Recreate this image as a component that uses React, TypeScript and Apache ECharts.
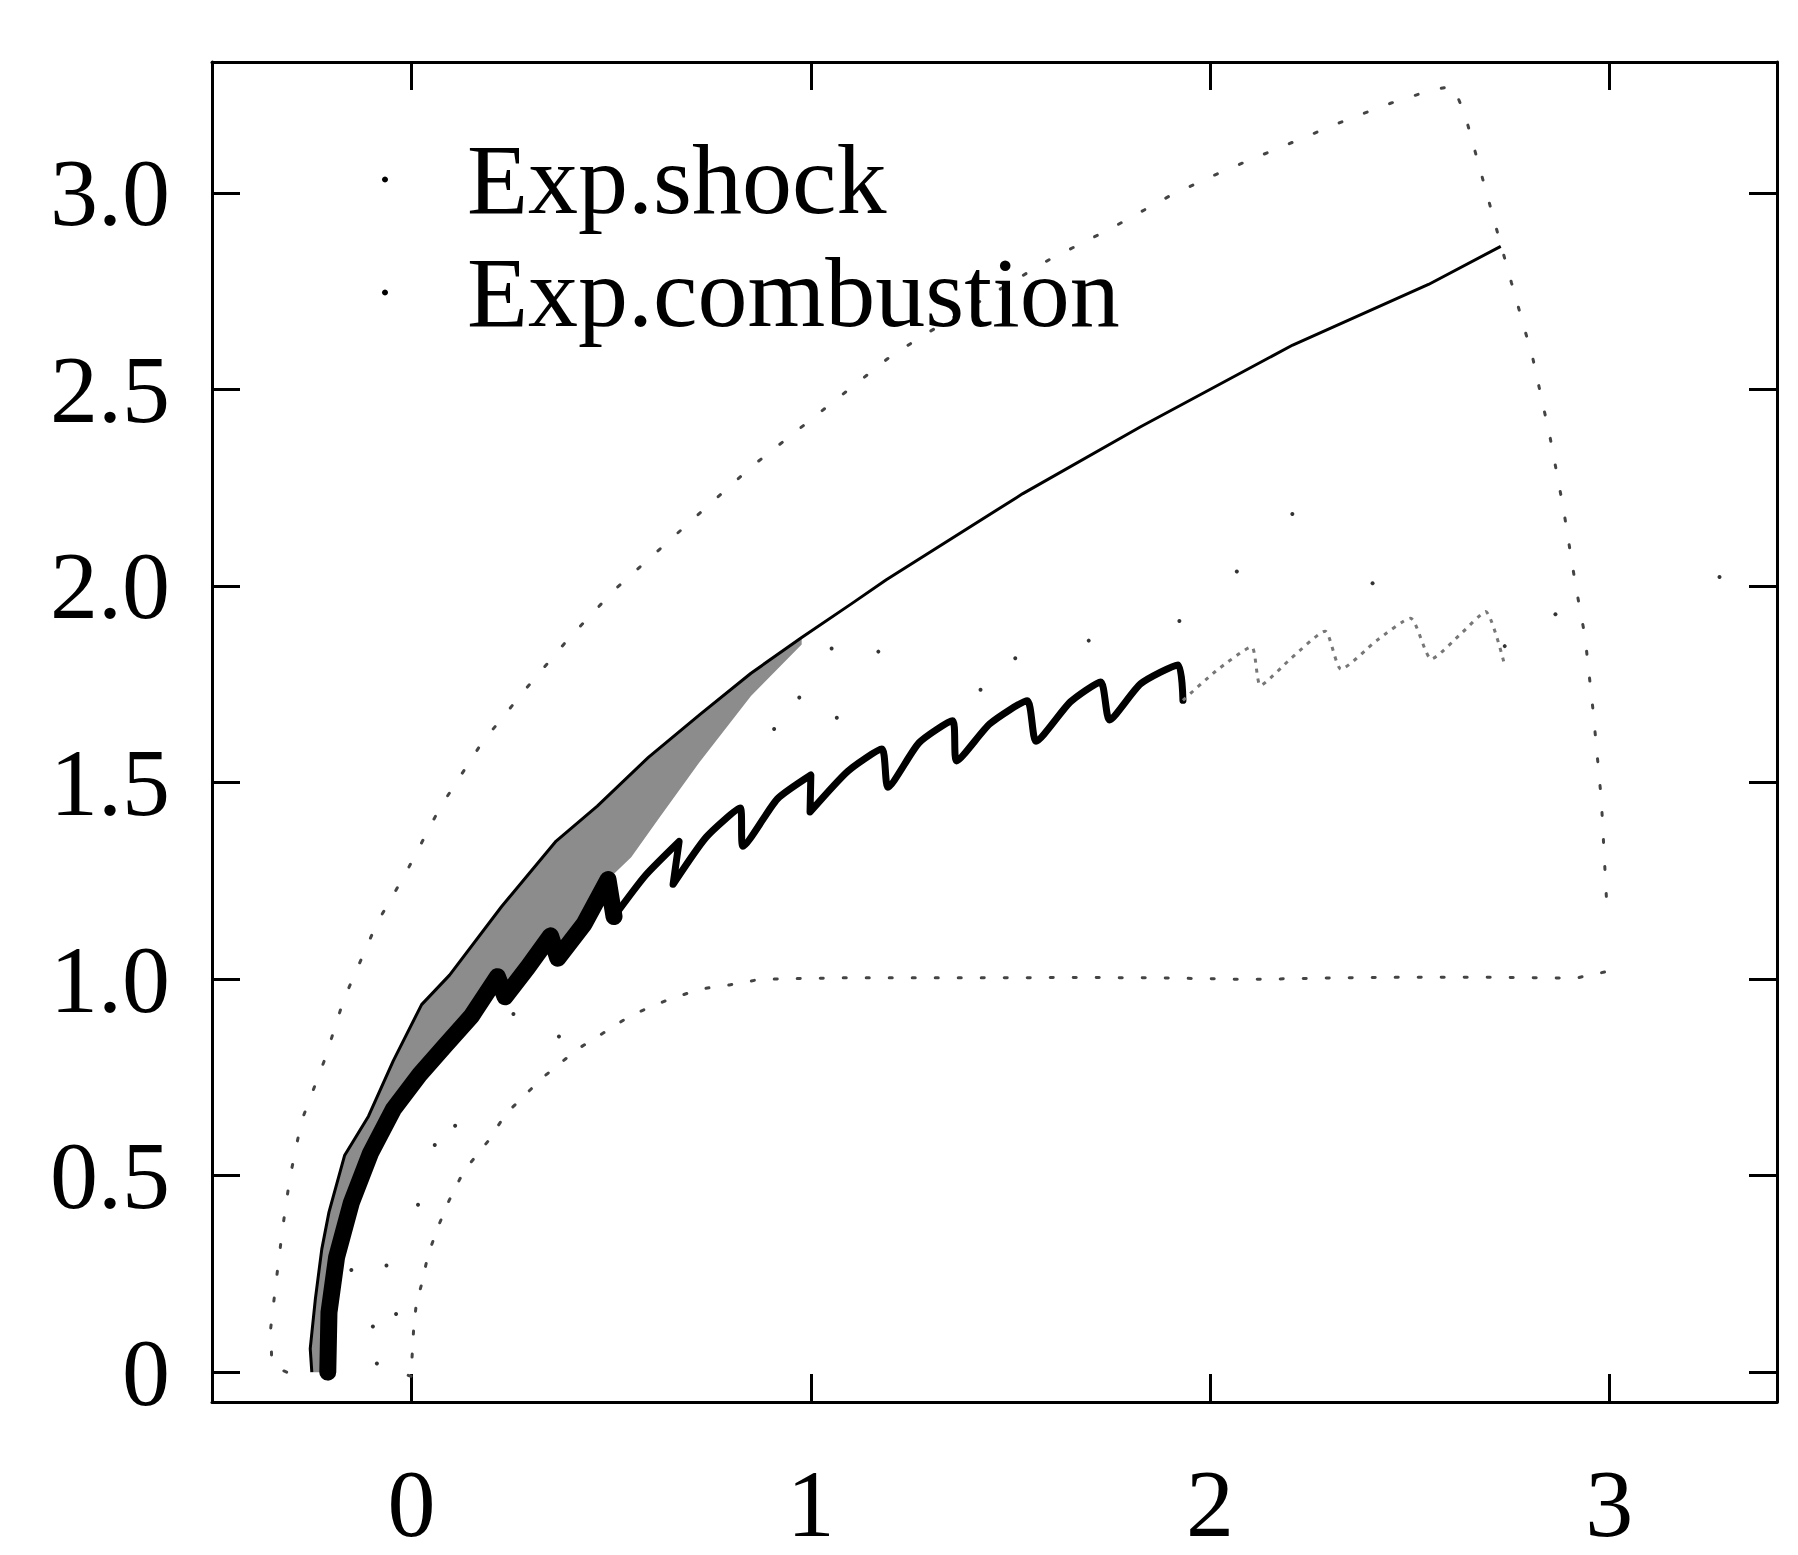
import React, { useEffect, useRef } from "react";
import * as echarts from "echarts";

const FONT = "'Liberation Serif', 'Times New Roman', serif";

const xTicks = [0, 1, 2, 3];
const yTicks = [0, 0.5, 1.0, 1.5, 2.0, 2.5, 3.0];
const legendNames = ["Exp.shock", "Exp.combustion"];

// shock front (upper edge of the stippled band, then the solid line)
const shockFront = [
  [-0.25, 0.0], [-0.254, 0.06], [-0.241, 0.187], [-0.225, 0.313], [-0.207, 0.407],
  [-0.168, 0.551], [-0.108, 0.651], [-0.046, 0.792], [0.025, 0.935], [0.095, 1.01],
  [0.225, 1.184], [0.362, 1.351], [0.465, 1.44], [0.593, 1.564], [0.721, 1.672],
  [0.85, 1.778], [0.977, 1.869], [1.105, 1.957], [1.189, 2.016], [1.531, 2.235],
  [1.826, 2.405], [2.207, 2.613], [2.547, 2.767], [2.728, 2.864],
];

// combustion front, thick lower part
const combustionLow = [
  [-0.21, 0.0], [-0.207, 0.152], [-0.188, 0.292], [-0.151, 0.431], [-0.103, 0.557],
  [-0.045, 0.67], [0.02, 0.757], [0.085, 0.832], [0.15, 0.906], [0.215, 1.006],
  [0.234, 0.955], [0.291, 1.03], [0.348, 1.11], [0.366, 1.053], [0.432, 1.14],
  [0.492, 1.253], [0.507, 1.159],
];

// combustion front, saw-tooth middle part
const combustionMid = [
  [0.507, 1.159], [0.585, 1.263], [0.67, 1.35], [0.655, 1.241], [0.738, 1.361],
  [0.823, 1.435], [0.83, 1.338], [0.916, 1.458], [1.0, 1.519], [0.998, 1.425],
  [1.093, 1.529], [1.178, 1.585], [1.193, 1.488], [1.271, 1.601], [1.355, 1.657],
  [1.365, 1.555], [1.448, 1.649], [1.542, 1.708], [1.564, 1.605], [1.65, 1.705],
  [1.726, 1.756], [1.748, 1.659], [1.826, 1.751], [1.92, 1.799], [1.932, 1.709],
];

// combustion front, faint end
const combustionFaint = [
  [1.932, 1.709], [2.014, 1.783], [2.104, 1.845], [2.126, 1.747], [2.203, 1.816],
  [2.288, 1.885], [2.328, 1.788], [2.417, 1.861], [2.502, 1.918], [2.554, 1.814],
  [2.631, 1.881], [2.69, 1.935], [2.737, 1.802],
];

// lower edge of the stippled shock band (upper part)
const bandLowerEdge = [
  [0.977, 1.851], [0.85, 1.72], [0.72, 1.55], [0.62, 1.41], [0.55, 1.31],
];

// dotted outer boundary
const boundaryOuter = [
  [-0.313, 0.0], [-0.35, 0.016], [-0.353, 0.111], [-0.34, 0.225], [-0.323, 0.367],
  [-0.305, 0.494], [-0.276, 0.638], [-0.217, 0.797], [-0.17, 0.948], [-0.087, 1.142],
  [-0.016, 1.267], [0.071, 1.436], [0.176, 1.601], [0.29, 1.743], [0.394, 1.867],
  [0.509, 1.991], [0.851, 2.303], [1.192, 2.578], [1.273, 2.632], [1.6, 2.832],
  [1.745, 2.906], [1.902, 2.994], [2.034, 3.056], [2.34, 3.185], [2.452, 3.228],
  [2.553, 3.261], [2.609, 3.272], [2.639, 3.197], [2.671, 3.079], [2.712, 2.928],
  [2.755, 2.771], [2.808, 2.581], [2.852, 2.376], [2.885, 2.197], [2.915, 2.005],
  [2.939, 1.872], [2.959, 1.686], [2.98, 1.456], [2.993, 1.201],
];

// dotted inner boundary
const boundaryInner = [
  [2.988, 1.018], [2.915, 1.002], [2.77, 1.004], [2.547, 1.005], [2.322, 1.003],
  [2.099, 0.999], [1.876, 1.003], [1.653, 1.004], [1.427, 1.003], [1.26, 1.003],
  [1.074, 1.003], [0.959, 1.001], [0.871, 0.999], [0.796, 0.985], [0.72, 0.974],
  [0.634, 0.944], [0.55, 0.908], [0.482, 0.864], [0.416, 0.822], [0.328, 0.749],
  [0.236, 0.657], [0.191, 0.587], [0.131, 0.512], [0.094, 0.437], [0.068, 0.374],
  [0.041, 0.298], [0.026, 0.227], [0.012, 0.177], [0.005, 0.108], [0.0, 0.019],
  [0.0, -0.011], [-0.043, 0.003],
];

// isolated dots
const strayDots = [
  [0.255, 0.911], [0.369, 0.854], [0.109, 0.627], [0.058, 0.578], [0.016, 0.426],
  [-0.063, 0.271], [-0.151, 0.26], [-0.039, 0.148], [-0.097, 0.116], [-0.087, 0.022],
  [1.052, 1.841], [1.169, 1.833], [0.971, 1.716], [1.065, 1.665], [0.908, 1.636],
  [2.067, 2.037], [1.923, 1.911], [1.696, 1.861], [1.512, 1.816], [1.425, 1.736],
  [2.206, 2.183], [2.407, 2.007], [2.865, 1.928], [3.276, 2.023], [2.738, 1.847],
];

const bandPolygon = [
  ...shockFront.slice(0, 17),
  ...bandLowerEdge,
  ...combustionLow.slice(0, 16).reverse(),
];

const axisLineStyle = { color: "#000", width: 3 };

function makeX(position: string, labels: boolean) {
  return {
    type: "value",
    min: -0.5,
    max: 3.42,
    position,
    axisLine: { show: true, onZero: false, lineStyle: axisLineStyle },
    axisTick: {
      show: true,
      inside: true,
      length: 28,
      customValues: xTicks,
      lineStyle: axisLineStyle,
    },
    axisLabel: labels
      ? {
          show: true,
          customValues: xTicks,
          margin: 53,
          fontFamily: FONT,
          fontSize: 96,
          color: "#000",
          formatter: (v: number) => String(v),
        }
      : { show: false },
    splitLine: { show: false },
  };
}

function makeY(position: string, labels: boolean) {
  return {
    type: "value",
    min: -0.076,
    max: 3.333,
    position,
    axisLine: { show: true, onZero: false, lineStyle: axisLineStyle },
    axisTick: {
      show: true,
      inside: true,
      length: 28,
      customValues: yTicks,
      lineStyle: axisLineStyle,
    },
    axisLabel: labels
      ? {
          show: true,
          customValues: yTicks,
          margin: 42,
          fontFamily: FONT,
          fontSize: 96,
          color: "#000",
          formatter: (v: number) => (v === 0 ? "0" : v.toFixed(1)),
        }
      : { show: false },
    splitLine: { show: false },
  };
}

export default function App() {
  const ref = useRef<HTMLDivElement>(null);

  useEffect(() => {
    if (!ref.current) return;
    const chart = echarts.init(ref.current, null, { renderer: "svg" });
    const option = {
      animation: false,
      backgroundColor: "#fff",
      grid: { left: 212, right: 21, top: 62, bottom: 153 },
      xAxis: [makeX("bottom", true), makeX("top", false)],
      yAxis: [makeY("left", true), makeY("right", false)],
      legend: {
        data: legendNames.map((n) => ({ name: n, icon: "circle" })),
        orient: "vertical",
        left: 377,
        top: 118,
        itemWidth: 6,
        itemHeight: 6,
        itemGap: 0,
        selectedMode: false,
        textStyle: {
          fontFamily: FONT,
          fontSize: 100,
          color: "#000",
          lineHeight: 113,
          padding: [0, 0, 0, 74],
        },
      },
      series: [
        {
          type: "custom",
          name: "band",
          xAxisIndex: 0,
          yAxisIndex: 0,
          silent: true,
          z: 1,
          data: [[0, 0]],
          renderItem: (params: any, api: any) => {
            if (params.dataIndex !== 0) return null;
            const pts = bandPolygon.map((p) => api.coord(p));
            return {
              type: "polygon",
              shape: { points: pts },
              style: { fill: "#8c8c8c" },
            };
          },
        },
        {
          type: "line",
          name: "Exp.combustion",
          data: combustionLow,
          showSymbol: false,
          symbol: "circle",
          z: 4,
          itemStyle: { color: "#000" },
          lineStyle: { color: "#000", width: 17, cap: "round", join: "round" },
        },
        {
          type: "line",
          name: "Exp.combustion",
          data: combustionMid,
          showSymbol: false,
          symbol: "circle",
          smooth: 0.2,
          z: 4,
          itemStyle: { color: "#000" },
          lineStyle: { color: "#000", width: 7, cap: "round", join: "round" },
        },
        {
          type: "line",
          name: "Exp.combustion",
          data: combustionFaint,
          showSymbol: false,
          symbol: "circle",
          smooth: 0.2,
          z: 4,
          itemStyle: { color: "#000" },
          lineStyle: { color: "#777", width: 3, type: [4, 6], join: "round" },
        },
        {
          type: "line",
          name: "Exp.shock",
          data: shockFront,
          showSymbol: false,
          symbol: "circle",
          z: 5,
          itemStyle: { color: "#000" },
          lineStyle: { color: "#000", width: 3, join: "round" },
        },
        {
          type: "line",
          name: "boundaryOuter",
          data: boundaryOuter,
          showSymbol: false,
          z: 3,
          lineStyle: { color: "#444", width: 3, type: [3, 24], cap: "round" },
        },
        {
          type: "line",
          name: "boundaryInner",
          data: boundaryInner,
          showSymbol: false,
          z: 3,
          lineStyle: { color: "#444", width: 3, type: [3, 20], cap: "round" },
        },
        {
          type: "scatter",
          name: "dots",
          data: strayDots,
          symbol: "circle",
          symbolSize: 4,
          z: 3,
          itemStyle: { color: "#000" },
        },
      ],
    };
    chart.setOption(option as any);
    return () => chart.dispose();
  }, []);

  return (
    <div
      ref={ref}
      style={{ position: "absolute", left: 0, top: 0, width: 1798, height: 1555, background: "#fff" }}
    />
  );
}
